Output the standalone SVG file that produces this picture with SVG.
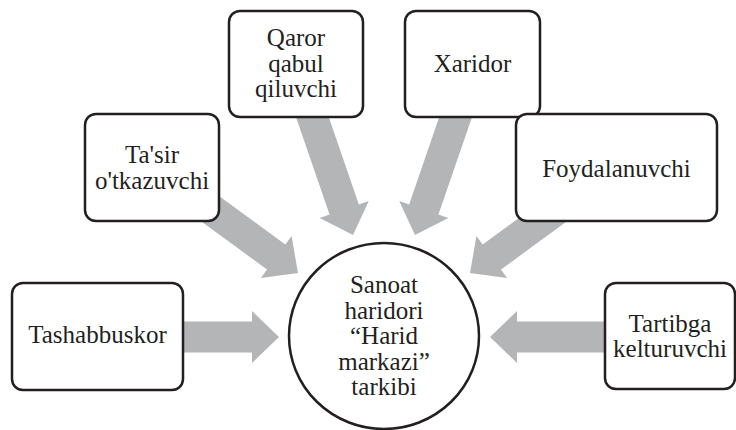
<svg xmlns="http://www.w3.org/2000/svg" width="736" height="430" viewBox="0 0 736 430">
<style>
.box{fill:#fff;stroke:#231f20;stroke-width:2.5}
.arr{fill:#b4b5b7;stroke:none}
.t{font-family:'Liberation Serif','Times New Roman','DejaVu Serif',serif;font-size:25px;fill:#231f20;text-anchor:middle}
</style>
<rect width="736" height="430" fill="#fff"/>
<g id="connectors">
<polygon class="arr" transform="translate(279,337)" points="-110,-15.5 -27,-15.5 -27,-26 0,0 -27,26 -27,15.5 -110,15.5"/>
<polygon class="arr" transform="translate(490,337) rotate(180)" points="-125,-15.5 -27,-15.5 -27,-26 0,0 -27,26 -27,15.5 -125,15.5"/>
<polygon class="arr" transform="translate(298,273) rotate(36.2)" points="-130,-15.5 -27,-15.5 -27,-26 0,0 -27,26 -27,15.5 -130,15.5"/>
<polygon class="arr" transform="translate(470,273) rotate(143.8)" points="-130,-15.5 -27,-15.5 -27,-26 0,0 -27,26 -27,15.5 -130,15.5"/>
<polygon class="arr" transform="translate(353,235) rotate(71)" points="-135,-15.5 -27,-15.5 -27,-26 0,0 -27,26 -27,15.5 -135,15.5"/>
<polygon class="arr" transform="translate(415,235) rotate(109)" points="-135,-15.5 -27,-15.5 -27,-26 0,0 -27,26 -27,15.5 -135,15.5"/>
</g>
<g id="qaror">
<rect class="box" x="229" y="11" width="134" height="106" rx="11"/>
<text class="t" x="296" y="45.5">Qaror</text>
<text class="t" x="296" y="71.5">qabul</text>
<text class="t" x="296" y="97">qiluvchi</text>
</g>
<g id="xaridor">
<rect class="box" x="405" y="11" width="135" height="106" rx="11"/>
<text class="t" x="472.5" y="72">Xaridor</text>
</g>
<g id="tasir">
<rect class="box" x="85" y="114" width="134" height="107" rx="11"/>
<text class="t" x="152" y="163">Ta'sir</text>
<text class="t" x="152" y="188.5">o'tkazuvchi</text>
</g>
<g id="foydalanuvchi">
<rect class="box" x="516" y="114" width="201" height="107" rx="11"/>
<text class="t" x="616.5" y="177">Foydalanuvchi</text>
</g>
<g id="tashabbuskor">
<rect class="box" x="12" y="283" width="171" height="107" rx="11"/>
<text class="t" x="97.5" y="343">Tashabbuskor</text>
</g>
<g id="tartibga">
<rect class="box" x="605" y="283" width="130" height="106" rx="11"/>
<text class="t" x="670" y="332">Tartibga</text>
<text class="t" x="670" y="357">kelturuvchi</text>
</g>
<g id="center">
<ellipse class="box" cx="384" cy="336" rx="95" ry="93"/>
<text class="t" x="384" y="293">Sanoat</text>
<text class="t" x="384" y="319">haridori</text>
<text class="t" x="384" y="344">“Harid</text>
<text class="t" x="384" y="369.5">markazi”</text>
<text class="t" x="384" y="395">tarkibi</text>
</g>
</svg>
